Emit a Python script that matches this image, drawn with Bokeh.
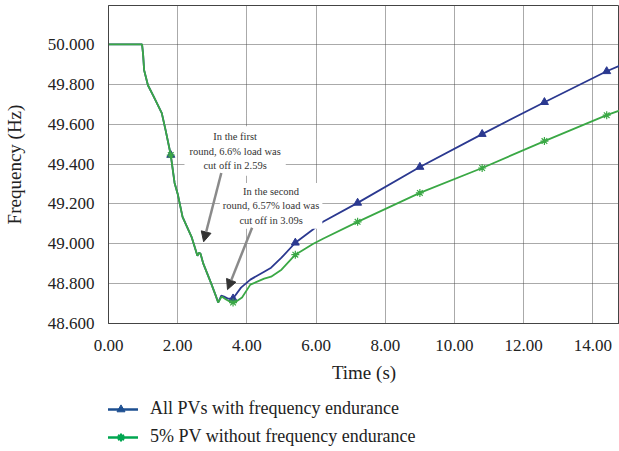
from bokeh.plotting import figure
from bokeh.layouts import column
from bokeh.models import (Range1d, FixedTicker, NumeralTickFormatter, Legend, LegendItem,
                          Label, Arrow, NormalHead)
from bokeh.embed import file_html
from bokeh.resources import INLINE

# ---------------- data ----------------
blue_time = [0.0, 0.97, 1.0, 1.03, 1.14, 1.3, 1.54, 1.65, 1.8, 1.91, 2.0, 2.14, 2.4, 2.57, 2.62,
             2.66, 2.74, 2.97, 3.1, 3.17, 3.26, 3.34, 3.45, 3.6, 3.83, 4.1, 4.5, 4.7, 5.0, 5.4,
             5.9, 6.2, 7.2, 9.0, 10.8, 12.6, 14.4, 14.8]
blue_freq = [50.0, 50.0, 49.95, 49.87, 49.795, 49.74, 49.655, 49.57, 49.445, 49.305, 49.25, 49.135,
             49.035, 48.94, 48.955, 48.95, 48.90, 48.80, 48.74, 48.705, 48.74, 48.735, 48.725,
             48.725, 48.78, 48.82, 48.86, 48.88, 48.93, 49.005, 49.07, 49.11, 49.205, 49.385,
             49.55, 49.71, 49.865, 49.895]

green_time = [0.0, 0.97, 1.0, 1.03, 1.14, 1.3, 1.54, 1.65, 1.8, 1.91, 2.0, 2.14, 2.4, 2.57, 2.62,
              2.66, 2.74, 2.97, 3.1, 3.17, 3.27, 3.4, 3.55, 3.65, 3.86, 4.1, 4.5, 4.7, 5.0, 5.4,
              5.92, 6.2, 7.2, 9.0, 10.8, 12.6, 14.4, 14.8]
green_freq = [50.0, 50.0, 49.95, 49.87, 49.795, 49.74, 49.655, 49.57, 49.445, 49.305, 49.25, 49.135,
              49.035, 48.94, 48.955, 48.95, 48.90, 48.80, 48.74, 48.705, 48.735, 48.72, 48.705,
              48.705, 48.73, 48.795, 48.825, 48.835, 48.87, 48.945, 49.0, 49.025, 49.11, 49.255,
              49.38, 49.515, 49.645, 49.67]

marker_time = [1.8, 3.6, 5.4, 7.2, 9.0, 10.8, 12.6, 14.4]
blue_marker_freq = [49.445, 48.725, 49.005, 49.205, 49.385, 49.55, 49.71, 49.865]
green_marker_freq = [49.445, 48.705, 48.945, 49.11, 49.255, 49.38, 49.515, 49.645]

x_ticks = [0, 2, 4, 6, 8, 10, 12, 14]
y_ticks = [48.6, 48.8, 49.0, 49.2, 49.4, 49.6, 49.8, 50.0]

series_names = ["All PVs with frequency endurance", "5% PV without frequency endurance"]
note_1 = "In the first\nround, 6.6% load was\ncut off in 2.59s"
note_2 = "In the second\nround, 6.57% load was\ncut off in 3.09s"

# ---------------- styling ----------------
SERIF = "Liberation Serif"
BLUE = "#2b3990"
GREEN = "#3aa845"
LEG_BLUE = "#1d4f91"
LEG_GREEN = "#00a650"

p = figure(width=619, height=385, output_backend="svg", toolbar_location=None,
           x_range=Range1d(0, 14.77), y_range=Range1d(48.6, 50.195),
           min_border_left=103, min_border_right=0, min_border_top=5, min_border_bottom=62)
p.background_fill_color = "white"
p.border_fill_color = "white"
p.outline_line_color = "#444444"
p.outline_line_width = 1

for ax in (p.xaxis[0], p.yaxis[0]):
    ax.major_tick_line_color = None
    ax.minor_tick_line_color = None
    ax.axis_line_color = "#444444"
    ax.major_label_text_font = SERIF
    ax.major_label_text_font_size = "17px"
    ax.major_label_text_color = "#222222"
    ax.axis_label_text_font = SERIF
    ax.axis_label_text_font_size = "19px"
    ax.axis_label_text_font_style = "normal"
    ax.axis_label_text_color = "#222222"

p.xaxis.ticker = FixedTicker(ticks=x_ticks)
p.yaxis.ticker = FixedTicker(ticks=y_ticks)
p.xaxis.formatter = NumeralTickFormatter(format="0.00")
p.yaxis.formatter = NumeralTickFormatter(format="0.000")
p.xaxis.axis_label = "Time (s)"
p.yaxis.axis_label = "Frequency (Hz)"
p.xaxis.major_label_standoff = 10
p.yaxis.major_label_standoff = 8
p.xaxis.axis_label_standoff = 8
p.yaxis.axis_label_standoff = 20

for g in (p.xgrid[0], p.ygrid[0]):
    g.grid_line_color = "#444444"
    g.grid_line_dash = "1 1"
    g.grid_line_width = 1
    g.grid_line_alpha = 0.9

# curves
p.line(blue_time, blue_freq, line_color=BLUE, line_width=1.8)
p.scatter(marker_time, blue_marker_freq, marker="triangle", size=8,
          fill_color=BLUE, line_color=BLUE)
p.line(green_time, green_freq, line_color=GREEN, line_width=1.8)
p.scatter(marker_time, green_marker_freq, marker="asterisk", size=8,
          line_color=GREEN, line_width=1.2)

# annotations
lab1 = Label(x=3.66, y=49.465, text=note_1, text_align="center", text_baseline="middle",
             text_font=SERIF, text_font_size="10.5px", text_color="#333333",
             text_line_height=1.3, background_fill_color="white", padding=5)
lab2 = Label(x=4.70, y=49.19, text=note_2, text_align="center", text_baseline="middle",
             text_font=SERIF, text_font_size="10.5px", text_color="#333333",
             text_line_height=1.3, background_fill_color="white", padding=3)
p.add_layout(lab1)
p.add_layout(lab2)

p.add_layout(Arrow(x_start=3.26, y_start=49.355, x_end=2.75, y_end=49.01,
                   line_color="#8a8a8a", line_width=2.5,
                   end=NormalHead(size=10, fill_color="#333333", line_color="#333333")))
p.add_layout(Arrow(x_start=4.15, y_start=49.08, x_end=3.44, y_end=48.77,
                   line_color="#8a8a8a", line_width=2.5,
                   end=NormalHead(size=10, fill_color="#333333", line_color="#333333")))

# ---------------- legend strip (its renderers lie outside its visible range) ----------------
q = figure(width=619, height=66, output_backend="svg", toolbar_location=None,
           x_range=Range1d(0, 1), y_range=Range1d(0, 1),
           x_axis_location=None, y_axis_location=None,
           min_border_left=0, min_border_right=0, min_border_top=0, min_border_bottom=0)
q.grid.visible = False
q.outline_line_color = None
q.background_fill_color = "white"
q.border_fill_color = "white"

lb = q.line(blue_time, blue_freq, line_color=LEG_BLUE, line_width=2.5)
mb = q.scatter(marker_time, blue_marker_freq, marker="triangle", size=11,
               fill_color=LEG_BLUE, line_color=LEG_BLUE)
lg = q.line(green_time, green_freq, line_color=LEG_GREEN, line_width=2.5)
mg = q.scatter(marker_time, green_marker_freq, marker="asterisk", size=9,
               line_color=LEG_GREEN, line_width=2)

legend = Legend(items=[LegendItem(label=series_names[0], renderers=[lb, mb]),
                       LegendItem(label=series_names[1], renderers=[lg, mg])],
                location=(-5, 4), orientation="vertical",
                glyph_width=35, glyph_height=20, label_standoff=12, spacing=7,
                padding=0, margin=0,
                label_text_font=SERIF, label_text_font_size="18px",
                label_text_color="#222222", label_height=20,
                border_line_color=None, background_fill_alpha=0)
q.add_layout(legend, "center")

layout = column(p, q, spacing=0)
open("out.html", "w").write(file_html(layout, INLINE))
